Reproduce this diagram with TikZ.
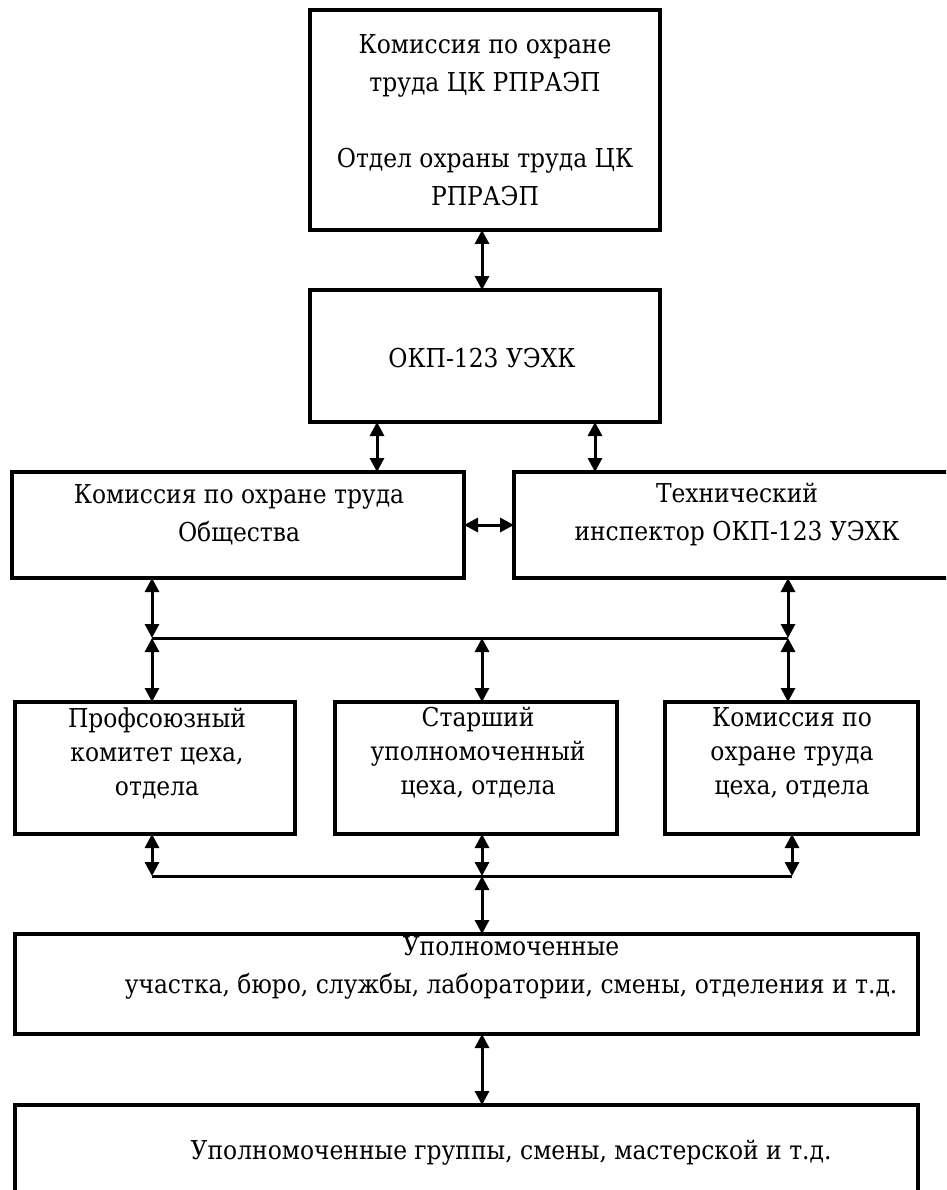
\documentclass[tikz,border=0pt]{standalone}
\usepackage{fontspec}
\setmainfont{DejaVu Serif}
\newfontfamily\diagserif{DejaVu Serif Condensed}
\usetikzlibrary{arrows.meta}
\begin{document}
\begin{tikzpicture}[x=1pt,y=-1pt,
  box/.style={draw, line width=4pt, inner sep=0pt, outer sep=0pt},
  txt/.style={font=\diagserif\fontsize{26}{38}\selectfont, align=center, inner sep=0pt},
  tight/.style={font=\diagserif\fontsize{26}{34}\selectfont},
  tip/.tip={Triangle[width=14pt,length=14pt]},
  conn/.style={line width=3pt, tip-tip},
  busline/.style={line width=3pt}]
\clip (0,0) rectangle (946,1190);
% boxes
\node[box, minimum width=350pt, minimum height=220pt] (b1) at (485,120) {};
\node[box, minimum width=350pt, minimum height=132pt] (b2) at (485,356) {};
\node[box, minimum width=452pt, minimum height=106pt] (b3L) at (238,525) {};
\node[box, minimum width=466pt, minimum height=106pt] (b3R) at (747,525) {};
\node[box, minimum width=280pt, minimum height=132pt] (b4a) at (155,768) {};
\node[box, minimum width=282pt, minimum height=132pt] (b4b) at (476,768) {};
\node[box, minimum width=253pt, minimum height=132pt] (b4c) at (791.5,768) {};
\node[box, minimum width=903pt, minimum height=100pt] (b5) at (466.5,984) {};
\node[box, minimum width=903pt, minimum height=145pt] (b6) at (466.5,1177.5) {};
% texts
\node[txt] (t1) at (485,120) {Комиссия по охране\\труда ЦК РПРАЭП\\[38pt]Отдел охраны труда ЦК\\РПРАЭП};
\node[txt] (t2) at (482,358) {ОКП-123 УЭХК};
\node[txt] (t3L) at (239,515) {Комиссия по охране труда\\Общества};
\node[txt] (t3R) at (737,514) {Технический\\инспектор ОКП-123 УЭХК};
\node[txt, tight] (t4a) at (157,753) {Профсоюзный\\комитет цеха,\\отдела};
\node[txt, tight] (t4b) at (478,753) {Старший\\уполномоченный\\цеха, отдела};
\node[txt, tight] (t4c) at (792,753) {Комиссия по\\охране труда\\цеха, отдела};
\node[txt] (t5) at (511,968) {Уполномоченные\\участка, бюро, службы, лаборатории, смены, отделения и т.д.};
\node[txt] (t6) at (511,1153) {Уполномоченные группы, смены, мастерской и т.д.};
% connector coordinates
\coordinate (xA) at (377,0);
\coordinate (xB) at (595,0);
\coordinate (bus1L) at (152,638);
\coordinate (bus1M) at (482,638);
\coordinate (bus1R) at (788,638);
\coordinate (bus2L) at (152,876);
\coordinate (bus2M) at (482,876);
\coordinate (bus2R) at (792,876);
% connectors
\draw[conn] (b1.south -| bus1M) -- (b2.north -| bus1M);
\draw[conn] (xA |- b2.south) -- (xA |- b3L.north);
\draw[conn] (xB |- b2.south) -- (xB |- b3R.north);
\draw[conn] (b3L.east) -- (b3R.west);
\draw[conn] (bus1L |- b3L.south) -- (bus1L);
\draw[conn] (bus1R |- b3R.south) -- (bus1R);
\draw[busline] (bus1L) -- (bus1R);
\draw[conn] (bus1L) -- (bus1L |- b4a.north);
\draw[conn] (bus1M) -- (bus1M |- b4b.north);
\draw[conn] (bus1R) -- (bus1R |- b4c.north);
\draw[conn] (bus2L |- b4a.south) -- (bus2L);
\draw[conn] (bus2M |- b4b.south) -- (bus2M);
\draw[conn] (bus2R |- b4c.south) -- (bus2R);
\draw[busline] (bus2L) -- (bus2R);
\draw[conn] (bus2M) -- (bus2M |- b5.north);
\draw[conn] (bus2M |- b5.south) -- (bus2M |- b6.north);
\end{tikzpicture}
\end{document}
